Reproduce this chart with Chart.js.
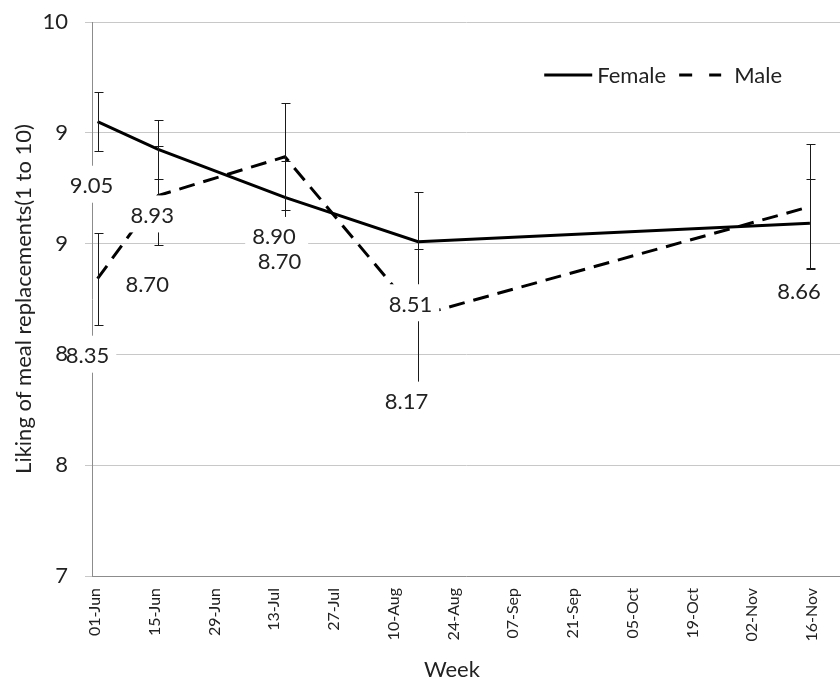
<!DOCTYPE html>
<html>
<head>
<meta charset="utf-8">
<script src="https://cdn.jsdelivr.net/npm/chart.js@4.4.1/dist/chart.umd.min.js"></script>
<style>
  html, body { margin: 0; padding: 0; background: #ffffff; }
  canvas { display: block; }
</style>
</head>
<body>
<canvas id="chart" width="840" height="684"></canvas>
<script>
// ---------------- data ----------------
const seriesNames = ['Female', 'Male'];
// measurement times, in days after 01-Jun
const weekDays = [0.6, 14.8, 44.5, 75.7, 167.5];
const femaleMeans = [9.46, 9.31, 9.05, 8.81, 8.91];
const femaleErrors = [0.16, 0.16, 0.20, 0.27, 0.24];
const maleMeans = [8.61, 9.06, 9.27, 8.41, 9.00];
const maleErrors = [0.25, 0.27, 0.29, 0.36, 0.34];
const femaleLabels = ['9.05', '8.93', '8.90', '8.51', '8.66'];
const maleLabels = ['8.35', '8.70', '8.70', '8.17', ''];
const xTickDays = [0, 14, 28, 42, 56, 70, 84, 98, 112, 126, 140, 154, 168];
const xTickLabels = ['01-Jun', '15-Jun', '29-Jun', '13-Jul', '27-Jul', '10-Aug', '24-Aug',
                     '07-Sep', '21-Sep', '05-Oct', '19-Oct', '02-Nov', '16-Nov'];
const yTickValues = [7, 7.6, 8.2, 8.8, 9.4, 10];
const yTickLabels = ['7', '8', '8', '9', '9', '10'];
const xAxisTitle = 'Week';
const yAxisTitle = 'Liking of meal replacements(1 to 10)';

// ---------------- style ----------------
const FONT = 'Lato, "Liberation Sans", sans-serif';
const TEXT = '#222222';
// pixel offsets of each data label from its point (style only)
const femaleLabelOffsets = [[-6, 63.5], [-6, 65.5], [-11, 39], [-7.5, 62], [-11, 68]];
const maleLabelOffsets = [[-10, 76.5], [-11, 88], [-5.5, 104.5], [-11.5, 85.5], [0, 0]];

function toPoints(xs, ys) { return xs.map((x, i) => ({ x: x, y: ys[i] })); }

const errorBarPlugin = {
  id: 'errorBars',
  afterDatasetsDraw(chart) {
    const ctx = chart.ctx, xs = chart.scales.x, ys = chart.scales.y;
    ctx.save();
    ctx.strokeStyle = '#1a1a1a';
    ctx.lineWidth = 1;
    chart.data.datasets.forEach(ds => {
      ds.data.forEach((p, j) => {
        const e = ds.errors[j];
        const x = Math.round(xs.getPixelForValue(p.x)) + 0.5;
        const yt = Math.round(ys.getPixelForValue(p.y + e)) + 0.5;
        const yb = Math.round(ys.getPixelForValue(p.y - e)) + 0.5;
        ctx.beginPath();
        ctx.moveTo(x, yt); ctx.lineTo(x, yb);
        ctx.moveTo(x - 4, yt); ctx.lineTo(x + 5, yt);
        ctx.moveTo(x - 4, yb); ctx.lineTo(x + 5, yb);
        ctx.stroke();
      });
    });
    ctx.restore();
  }
};

const dataLabelPlugin = {
  id: 'dataLabels',
  afterDatasetsDraw(chart) {
    const ctx = chart.ctx, xs = chart.scales.x, ys = chart.scales.y;
    ctx.save();
    ctx.font = '22px ' + FONT;
    ctx.textAlign = 'center';
    ctx.textBaseline = 'alphabetic';
    const order = chart.data.datasets.map((d, i) => i).reverse();
    order.forEach(i => {
      const ds = chart.data.datasets[i];
      ds.data.forEach((p, j) => {
        const txt = ds.pointLabels[j];
        if (!txt) return;
        const off = ds.labelOffsets[j];
        const cx = xs.getPixelForValue(p.x) + off[0];
        const cy = ys.getPixelForValue(p.y) + off[1];
        const w = ctx.measureText(txt).width + 14;
        const h = 37;
        ctx.fillStyle = '#ffffff';
        ctx.fillRect(cx - w / 2, cy - h / 2 - 1, w, h);
        ctx.fillStyle = TEXT;
        ctx.fillText(txt, cx, cy + 8);
      });
    });
    ctx.restore();
  }
};

const legendPlugin = {
  id: 'insideLegend',
  afterDraw(chart) {
    const ctx = chart.ctx, area = chart.chartArea;
    ctx.save();
    ctx.font = '22px ' + FONT;
    ctx.textBaseline = 'alphabetic';
    ctx.textAlign = 'left';
    const y = area.top + 53;
    const wMale = ctx.measureText(seriesNames[1]).width;
    const wFemale = ctx.measureText(seriesNames[0]).width;
    const maleTextX = area.right - 58 - wMale;
    const maleLineEnd = maleTextX - 13, maleLineStart = maleLineEnd - 42;
    const femaleTextX = maleLineStart - 13 - wFemale;
    const femaleLineEnd = femaleTextX - 5, femaleLineStart = femaleLineEnd - 48;
    const dsF = chart.data.datasets[0], dsM = chart.data.datasets[1];
    ctx.strokeStyle = dsF.borderColor;
    ctx.lineWidth = dsF.borderWidth;
    ctx.beginPath(); ctx.moveTo(femaleLineStart, y); ctx.lineTo(femaleLineEnd, y); ctx.stroke();
    ctx.strokeStyle = dsM.borderColor;
    ctx.lineWidth = dsM.borderWidth;
    ctx.setLineDash([13, 17]);
    ctx.beginPath(); ctx.moveTo(maleLineStart, y); ctx.lineTo(maleLineEnd, y); ctx.stroke();
    ctx.setLineDash([]);
    ctx.fillStyle = TEXT;
    ctx.fillText(seriesNames[0], femaleTextX, y + 8);
    ctx.fillText(seriesNames[1], maleTextX, y + 8);
    ctx.restore();
  }
};

new Chart(document.getElementById('chart'), {
  type: 'line',
  data: {
    datasets: [
      {
        label: seriesNames[0],
        data: toPoints(weekDays, femaleMeans),
        errors: femaleErrors,
        pointLabels: femaleLabels,
        labelOffsets: femaleLabelOffsets,
        borderColor: '#000000',
        borderWidth: 3,
        fill: false
      },
      {
        label: seriesNames[1],
        data: toPoints(weekDays, maleMeans),
        errors: maleErrors,
        pointLabels: maleLabels,
        labelOffsets: maleLabelOffsets,
        borderColor: '#000000',
        borderWidth: 3,
        borderDash: [16, 9],
        fill: false
      }
    ]
  },
  options: {
    responsive: false,
    animation: false,
    devicePixelRatio: 1,
    layout: { padding: { top: 22, left: 0, right: 0, bottom: 0 } },
    elements: {
      point: { radius: 0, hoverRadius: 0 },
      line: { tension: 0, borderCapStyle: 'butt', borderJoinStyle: 'miter' }
    },
    plugins: { legend: { display: false }, tooltip: { enabled: false } },
    scales: {
      x: {
        type: 'linear',
        min: -0.7,
        max: 174.55,
        afterBuildTicks: s => { s.ticks = xTickDays.map(v => ({ value: v })); },
        afterFit: s => { s.height = 108; s.paddingLeft = 0; s.paddingRight = 0; },
        grid: { display: false, drawTicks: false },
        border: { display: true, color: '#8c8c8c', width: 1 },
        ticks: {
          autoSkip: false, minRotation: 90, maxRotation: 90, padding: 12,
          color: TEXT, font: { family: FONT, size: 16 },
          callback: (v, i) => xTickLabels[i]
        },
        title: {
          display: true, text: xAxisTitle + '     ', color: TEXT,
          font: { family: FONT, size: 22 }, padding: { top: 0, bottom: 1 }
        }
      },
      y: {
        type: 'linear',
        min: 7,
        max: 10,
        afterBuildTicks: s => { s.ticks = yTickValues.map(v => ({ value: v })); },
        afterFit: s => { s.width = 92; s.paddingTop = 0; s.paddingBottom = 0; },
        grid: { color: '#c8c8c8', tickLength: 7, drawTicks: true },
        border: { display: true, color: '#8c8c8c', width: 1 },
        ticks: {
          padding: 17, z: 1, color: TEXT, font: { family: FONT, size: 22 },
          callback: (v, i) => yTickLabels[i]
        },
        title: {
          display: true, text: yAxisTitle, color: TEXT,
          font: { family: FONT, size: 22 }, padding: { top: 11, bottom: 0 }
        }
      }
    }
  },
  plugins: [errorBarPlugin, dataLabelPlugin, legendPlugin]
});
</script>
</body>
</html>
